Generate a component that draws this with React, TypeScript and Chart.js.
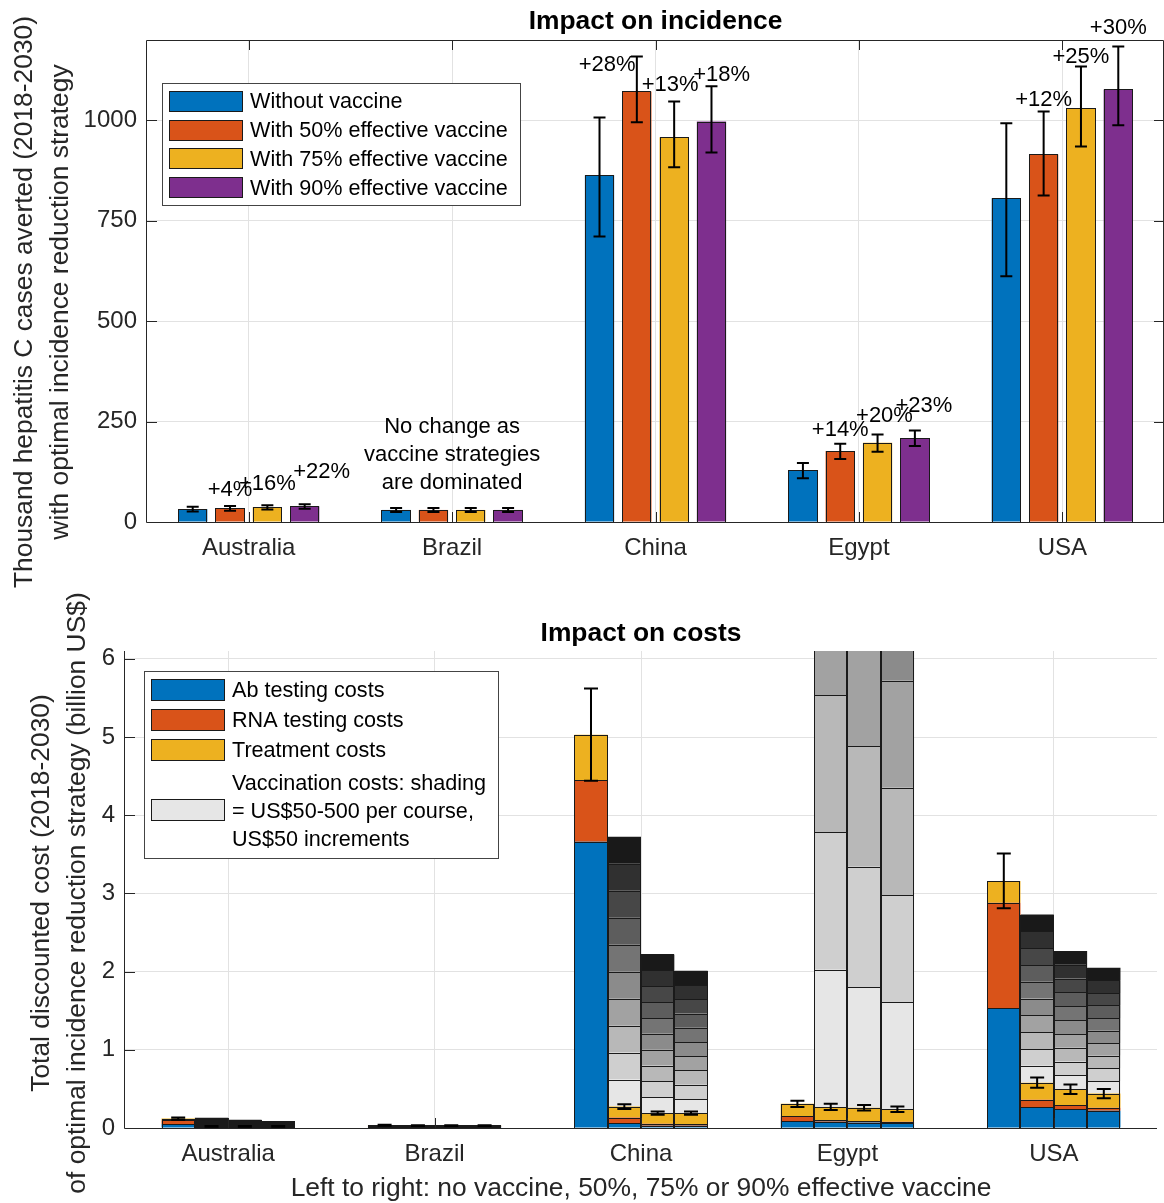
import React, { useEffect, useRef } from 'react';
import { Chart, registerables } from 'chart.js';

Chart.register(...registerables);

// ---------------- DATA ----------------
const countries = ['Australia', 'Brazil', 'China', 'Egypt', 'USA'];
const strategyLabels = [
  'Without vaccine',
  'With 50% effective vaccine',
  'With 75% effective vaccine',
  'With 90% effective vaccine',
];

// Top panel: thousand HCV cases averted (2018-2030)
const avertedNoVaccine = [32, 30, 863, 129, 806];
const avertedVaccine50 = [34, 30, 1072, 177, 915];
const avertedVaccine75 = [37, 30, 958, 197, 1030];
const avertedVaccine90 = [39, 30, 997, 208, 1077];

const avertedLowNoVaccine = [26, 25, 711, 109, 612];
const avertedHighNoVaccine = [38, 35, 1007, 147, 993];
const avertedLow50 = [28, 25, 995, 157, 813];
const avertedHigh50 = [40, 35, 1159, 195, 1022];
const avertedLow75 = [31, 25, 883, 175, 935];
const avertedHigh75 = [42, 35, 1047, 218, 1134];
const avertedLow90 = [33, 25, 920, 189, 988];
const avertedHigh90 = [44, 35, 1085, 228, 1184];

// Percentage-increase annotations (text, anchor value, anchor offset in category units)
const pctText50 = ['+4%', '', '+28%', '+14%', '+12%'];
const pctText75 = ['+16%', '', '+13%', '+20%', '+25%'];
const pctText90 = ['+22%', '', '+18%', '+23%', '+30%'];
const pctAnchorY50 = [80, 0, 1137, 229, 1052];
const pctAnchorY75 = [95, 0, 1087, 264, 1157];
const pctAnchorY90 = [124, 0, 1114, 289, 1231];
const pctAnchorDx50 = [0, 0, -0.146, 0, 0];
const pctAnchorDx75 = [0, 0, -0.02, 0.034, 0];
const pctAnchorDx90 = [0.083, 0, 0.05, 0.044, 0];

const brazilNote = ['No change as', 'vaccine strategies', 'are dominated'];
const brazilNoteCountry = 1;
const brazilNoteY = 167;

const topYTicks = [0, 250, 500, 750, 1000];
const topYMax = 1200;

// Bottom panel: total discounted cost (billion US$)
const abCostNoVaccine = [0.05, 0.015, 3.66, 0.09, 1.53];
const rnaCostNoVaccine = [0.05, 0.01, 0.79, 0.06, 1.35];
const treatCostNoVaccine = [0.02, 0.01, 0.58, 0.16, 0.28];
const costErrNoVaccine = [0.015, 0.005, 0.59, 0.04, 0.35];

const abCost50 = [0.01, 0.015, 0.064, 0.08, 0.27];
const rnaCost50 = [0.005, 0.008, 0.07, 0.02, 0.09];
const treatCost50 = [0.005, 0.007, 0.14, 0.17, 0.22];
const vaccStepCost50 = [0.011, 0.0005, 0.345, 1.755, 0.215];
const costErr50 = [0.005, 0.004, 0.03, 0.04, 0.065];

const abCost75 = [0.01, 0.015, 0.03, 0.07, 0.24];
const rnaCost75 = [0.005, 0.008, 0.025, 0.015, 0.055];
const treatCost75 = [0.005, 0.007, 0.135, 0.175, 0.2];
const vaccStepCost75 = [0.0085, 0.0005, 0.203, 1.54, 0.177];
const costErr75 = [0.005, 0.004, 0.02, 0.035, 0.06];

const abCost90 = [0.01, 0.015, 0.03, 0.065, 0.22];
const rnaCost90 = [0.005, 0.008, 0.02, 0.015, 0.04];
const treatCost90 = [0.005, 0.007, 0.14, 0.16, 0.18];
const vaccStepCost90 = [0.007, 0.0005, 0.182, 1.37, 0.161];
const costErr90 = [0.005, 0.004, 0.02, 0.035, 0.06];

// vaccine price steps: US$50 ... US$500 per course
const vaccPriceSteps = [50, 100, 150, 200, 250, 300, 350, 400, 450, 500];

const costLegendLabels = ['Ab testing costs', 'RNA testing costs', 'Treatment costs'];
const vaccLegendLines = ['Vaccination costs: shading', '= US$50-500 per course,', 'US$50 increments'];

const bottomYTicks = [0, 1, 2, 3, 4, 5, 6];
const bottomYMax = 6.1;

// ---------------- STYLE ----------------
const FONT = '"Liberation Sans", Arial, Helvetica, sans-serif';
const AXIS = '#262626';
const GRID = '#e2e2e2';
const EDGE = '#1a1a1a';
const COLORS = ['#0072BD', '#D95319', '#EDB120', '#7E2F8E'];
const GREYS = vaccPriceSteps.map((_, i) => {
  const v = Math.round(255 * (0.9 - (0.8 * i) / (vaccPriceSteps.length - 1)));
  return `rgb(${v},${v},${v})`;
});

const W = 1164;
const H = 1203;

function drawErrorBar(ctx: CanvasRenderingContext2D, x: number, y1: number, y2: number, cap: number) {
  ctx.beginPath();
  ctx.moveTo(x, y1);
  ctx.lineTo(x, y2);
  ctx.moveTo(x - cap, y1);
  ctx.lineTo(x + cap, y1);
  ctx.moveTo(x - cap, y2);
  ctx.lineTo(x + cap, y2);
  ctx.stroke();
}

function drawVerticalText(ctx: CanvasRenderingContext2D, text: string, x: number, y: number) {
  ctx.save();
  ctx.translate(x, y);
  ctx.rotate(-Math.PI / 2);
  ctx.textAlign = 'center';
  ctx.textBaseline = 'middle';
  ctx.fillText(text, 0, 0);
  ctx.restore();
}

function drawSwatch(ctx: CanvasRenderingContext2D, x: number, y: number, w: number, h: number, color: string) {
  ctx.fillStyle = color;
  ctx.fillRect(x, y, w, h);
  ctx.strokeStyle = EDGE;
  ctx.lineWidth = 1;
  ctx.strokeRect(x + 0.5, y + 0.5, w - 1, h - 1);
}

// MATLAB-like bar edges: a crisp 1px line on every bar boundary
function drawBarEdges(chart: any) {
  const ctx: CanvasRenderingContext2D = chart.ctx;
  const { left, right, top, bottom } = chart.chartArea;
  ctx.save();
  ctx.beginPath();
  ctx.rect(left, top, right - left, bottom - top + 1);
  ctx.clip();
  ctx.strokeStyle = EDGE;
  ctx.lineWidth = 1;
  chart.data.datasets.forEach((_: any, di: number) => {
    const meta = chart.getDatasetMeta(di);
    meta.data.forEach((bar: any) => {
      const p = bar.getProps(['x', 'y', 'base', 'width'], true);
      const x0 = Math.round(p.x - p.width / 2) + 0.5;
      const x1 = Math.round(p.x + p.width / 2) - 0.5;
      const y0 = Math.round(Math.min(p.y, p.base)) + 0.5;
      const y1 = Math.round(Math.max(p.y, p.base)) + 0.5;
      ctx.strokeRect(x0, y0, x1 - x0, y1 - y0);
    });
  });
  ctx.restore();
}

// ---------------- TOP CHART ----------------
function makeTopChart(canvas: HTMLCanvasElement) {
  const values = [avertedNoVaccine, avertedVaccine50, avertedVaccine75, avertedVaccine90];
  const lows = [avertedLowNoVaccine, avertedLow50, avertedLow75, avertedLow90];
  const highs = [avertedHighNoVaccine, avertedHigh50, avertedHigh75, avertedHigh90];
  const pctTexts = [null, pctText50, pctText75, pctText90];
  const pctYs = [null, pctAnchorY50, pctAnchorY75, pctAnchorY90];
  const pctDxs = [null, pctAnchorDx50, pctAnchorDx75, pctAnchorDx90];

  const decor = {
    id: 'topDecor',
    afterDatasetsDraw(chart: any) {
      const ctx: CanvasRenderingContext2D = chart.ctx;
      const { left, right, top, bottom } = chart.chartArea;
      const yS = chart.scales.y;
      const xS = chart.scales.x;
      const catW = (right - left) / countries.length;

      drawBarEdges(chart);

      // error bars
      ctx.save();
      ctx.strokeStyle = '#000';
      ctx.lineWidth = 2;
      values.forEach((_, di) => {
        const meta = chart.getDatasetMeta(di);
        meta.data.forEach((bar: any, j: number) => {
          drawErrorBar(ctx, bar.x, yS.getPixelForValue(lows[di][j]), yS.getPixelForValue(highs[di][j]), 6);
        });
      });
      ctx.restore();

      // axes box + inward ticks
      ctx.save();
      ctx.strokeStyle = AXIS;
      ctx.lineWidth = 1;
      ctx.beginPath();
      ctx.rect(left - 0.5, top + 0.5, right - left, bottom - top);
      ctx.stroke();
      ctx.beginPath();
      topYTicks.forEach((v) => {
        const y = Math.round(yS.getPixelForValue(v)) + 0.5;
        ctx.moveTo(left, y);
        ctx.lineTo(left + 10, y);
        ctx.moveTo(right, y);
        ctx.lineTo(right - 10, y);
      });
      countries.forEach((_, i) => {
        const x = Math.round(xS.getPixelForValue(i)) + 0.5;
        ctx.moveTo(x, bottom);
        ctx.lineTo(x, bottom - 10);
        ctx.moveTo(x, top);
        ctx.lineTo(x, top + 10);
      });
      ctx.stroke();
      ctx.restore();

      // percentage annotations
      ctx.save();
      ctx.fillStyle = '#000';
      ctx.font = `22px ${FONT}`;
      ctx.textAlign = 'center';
      ctx.textBaseline = 'middle';
      for (let di = 1; di < 4; di++) {
        const meta = chart.getDatasetMeta(di);
        meta.data.forEach((bar: any, j: number) => {
          const t = (pctTexts[di] as string[])[j];
          if (!t) return;
          const x = bar.x + (pctDxs[di] as number[])[j] * catW;
          const y = yS.getPixelForValue((pctYs[di] as number[])[j]);
          ctx.fillText(t, x, y);
        });
      }
      // Brazil note
      const nx = xS.getPixelForValue(brazilNoteCountry);
      const ny = yS.getPixelForValue(brazilNoteY);
      brazilNote.forEach((line, k) => {
        ctx.fillText(line, nx, ny + (k - 1) * 28);
      });
      ctx.restore();

      // title
      ctx.save();
      ctx.fillStyle = '#000';
      ctx.font = `bold 26.4px ${FONT}`;
      ctx.textAlign = 'center';
      ctx.textBaseline = 'middle';
      ctx.fillText('Impact on incidence', (left + right) / 2, 22);
      ctx.restore();

      // y-axis label
      ctx.save();
      ctx.fillStyle = AXIS;
      ctx.font = `26.4px ${FONT}`;
      drawVerticalText(ctx, 'Thousand hepatitis C cases averted (2018-2030)', 25, 302);
      drawVerticalText(ctx, 'with optimal incidence reduction strategy', 61, 302);
      ctx.restore();

      // legend
      ctx.save();
      const lx = 162, ly = 83, lw = 358, lh = 122;
      ctx.fillStyle = '#fff';
      ctx.fillRect(lx, ly, lw, lh);
      ctx.strokeStyle = '#444';
      ctx.lineWidth = 1;
      ctx.strokeRect(lx + 0.5, ly + 0.5, lw, lh);
      ctx.font = `21.6px ${FONT}`;
      ctx.textBaseline = 'middle';
      ctx.textAlign = 'left';
      strategyLabels.forEach((lab, i) => {
        const cy = 101.5 + i * 28.7;
        drawSwatch(ctx, 169, Math.round(cy - 10.5), 74, 21, COLORS[i]);
        ctx.fillStyle = '#000';
        ctx.fillText(lab, 250, cy + 1);
      });
      ctx.restore();
    },
  };

  return new Chart(canvas, {
    type: 'bar',
    data: {
      labels: countries,
      datasets: values.map((v, i) => ({
        label: strategyLabels[i],
        data: v,
        backgroundColor: COLORS[i],
        borderWidth: 0,
        categoryPercentage: 0.734,
        barPercentage: 0.785,
      })),
    },
    options: {
      responsive: false,
      animation: false,
      events: [],
      layout: { padding: { left: 0, top: 40, right: 0, bottom: H - 522 - 60 } },
      plugins: {
        legend: { display: false },
        title: { display: false },
        tooltip: { enabled: false },
      },
      scales: {
        x: {
          grid: { offset: false, color: GRID, drawTicks: false },
          border: { display: false },
          ticks: { font: { family: FONT, size: 24 }, color: AXIS, padding: 12, maxRotation: 0 },
          afterFit: (s: any) => {
            s.height = 60;
          },
        },
        y: {
          min: 0,
          max: topYMax,
          afterBuildTicks: (s: any) => {
            s.ticks = topYTicks.map((v) => ({ value: v }));
          },
          grid: { color: GRID, drawTicks: false },
          border: { display: false },
          ticks: {
            font: { family: FONT, size: 24 },
            color: AXIS,
            padding: 10,
            callback: (v: any) => String(v),
          },
          afterFit: (s: any) => {
            s.width = 147;
          },
        },
      },
    },
    plugins: [decor],
  } as any);
}

// ---------------- BOTTOM CHART ----------------
function makeBottomChart(canvas: HTMLCanvasElement) {
  const stacks = [
    { key: 'none', ab: abCostNoVaccine, rna: rnaCostNoVaccine, treat: treatCostNoVaccine, vacc: null as number[] | null, err: costErrNoVaccine },
    { key: 'v50', ab: abCost50, rna: rnaCost50, treat: treatCost50, vacc: vaccStepCost50, err: costErr50 },
    { key: 'v75', ab: abCost75, rna: rnaCost75, treat: treatCost75, vacc: vaccStepCost75, err: costErr75 },
    { key: 'v90', ab: abCost90, rna: rnaCost90, treat: treatCost90, vacc: vaccStepCost90, err: costErr90 },
  ];

  const datasets: any[] = [];
  const errIndex: { ds: number; err: number[] }[] = [];
  stacks.forEach((s) => {
    const base = {
      stack: s.key,
      borderWidth: 0,
      categoryPercentage: 0.646,
      barPercentage: 1.0,
      clip: 0,
    };
    datasets.push({ ...base, label: costLegendLabels[0], data: s.ab, backgroundColor: COLORS[0] });
    datasets.push({ ...base, label: costLegendLabels[1], data: s.rna, backgroundColor: COLORS[1] });
    datasets.push({ ...base, label: costLegendLabels[2], data: s.treat, backgroundColor: COLORS[2] });
    errIndex.push({ ds: datasets.length - 1, err: s.err });
    if (s.vacc) {
      vaccPriceSteps.forEach((p, k) => {
        datasets.push({
          ...base,
          label: `Vaccination US$${p}`,
          data: s.vacc as number[],
          backgroundColor: GREYS[k],
        });
      });
    }
  });

  const decor = {
    id: 'bottomDecor',
    afterDatasetsDraw(chart: any) {
      const ctx: CanvasRenderingContext2D = chart.ctx;
      const { left, right, top, bottom } = chart.chartArea;
      const yS = chart.scales.y;
      const xS = chart.scales.x;

      drawBarEdges(chart);

      // error bars on testing + treatment cost
      ctx.save();
      ctx.strokeStyle = '#000';
      ctx.lineWidth = 2;
      const zero = yS.getPixelForValue(0);
      errIndex.forEach(({ ds, err }) => {
        const meta = chart.getDatasetMeta(ds);
        meta.data.forEach((bar: any, j: number) => {
          const e = zero - yS.getPixelForValue(err[j]);
          drawErrorBar(ctx, bar.x, bar.y - e, bar.y + e, 7);
        });
      });
      ctx.restore();

      // axes
      ctx.save();
      ctx.strokeStyle = AXIS;
      ctx.lineWidth = 1;
      ctx.beginPath();
      ctx.moveTo(left - 0.5, top);
      ctx.lineTo(left - 0.5, bottom + 0.5);
      ctx.lineTo(right, bottom + 0.5);
      bottomYTicks.forEach((v) => {
        const y = Math.round(yS.getPixelForValue(v)) + 0.5;
        ctx.moveTo(left, y);
        ctx.lineTo(left + 10, y);
      });
      countries.forEach((_, i) => {
        const x = Math.round(xS.getPixelForValue(i)) + 0.5;
        ctx.moveTo(x, bottom);
        ctx.lineTo(x, bottom - 10);
      });
      ctx.stroke();
      ctx.restore();

      // title
      ctx.save();
      ctx.fillStyle = '#000';
      ctx.font = `bold 26.4px ${FONT}`;
      ctx.textAlign = 'center';
      ctx.textBaseline = 'middle';
      ctx.fillText('Impact on costs', (left + right) / 2, 634);
      ctx.restore();

      // axis labels
      ctx.save();
      ctx.fillStyle = AXIS;
      ctx.font = `26.4px ${FONT}`;
      drawVerticalText(ctx, 'Total discounted cost (2018-2030)', 42, 893);
      drawVerticalText(ctx, 'of optimal incidence reduction strategy (billion US$)', 78, 893);
      ctx.textAlign = 'center';
      ctx.textBaseline = 'middle';
      ctx.fillText('Left to right: no vaccine, 50%, 75% or 90% effective vaccine', (left + right) / 2, 1189);
      ctx.restore();

      // legend
      ctx.save();
      const lx = 144, ly = 671, lw = 354, lh = 187;
      ctx.fillStyle = '#fff';
      ctx.fillRect(lx, ly, lw, lh);
      ctx.strokeStyle = '#444';
      ctx.lineWidth = 1;
      ctx.strokeRect(lx + 0.5, ly + 0.5, lw, lh);
      ctx.font = `21.6px ${FONT}`;
      ctx.textBaseline = 'middle';
      ctx.textAlign = 'left';
      costLegendLabels.forEach((lab, i) => {
        const cy = 690 + i * 30;
        drawSwatch(ctx, 151, Math.round(cy - 11), 74, 22, COLORS[i]);
        ctx.fillStyle = '#000';
        ctx.fillText(lab, 232, cy + 1);
      });
      drawSwatch(ctx, 151, 799, 74, 22, GREYS[0]);
      ctx.fillStyle = '#000';
      vaccLegendLines.forEach((line, k) => {
        ctx.fillText(line, 232, 783 + k * 28 + 1);
      });
      ctx.restore();
    },
  };

  return new Chart(canvas, {
    type: 'bar',
    data: { labels: countries, datasets },
    options: {
      responsive: false,
      animation: false,
      events: [],
      layout: { padding: { left: 0, top: 651, right: W - 1157, bottom: H - 1128 - 60 } },
      plugins: {
        legend: { display: false },
        title: { display: false },
        tooltip: { enabled: false },
      },
      scales: {
        x: {
          stacked: true,
          grid: { offset: false, color: GRID, drawTicks: false },
          border: { display: false },
          ticks: { font: { family: FONT, size: 24 }, color: AXIS, padding: 12, maxRotation: 0 },
          afterFit: (s: any) => {
            s.height = 60;
          },
        },
        y: {
          stacked: true,
          min: 0,
          max: bottomYMax,
          afterBuildTicks: (s: any) => {
            s.ticks = bottomYTicks.map((v) => ({ value: v }));
          },
          grid: { color: GRID, drawTicks: false },
          border: { display: false },
          ticks: { font: { family: FONT, size: 24 }, color: AXIS, padding: 10 },
          afterFit: (s: any) => {
            s.width = 125;
          },
        },
      },
    },
    plugins: [decor],
  } as any);
}

export default function App() {
  const topRef = useRef<HTMLCanvasElement | null>(null);
  const bottomRef = useRef<HTMLCanvasElement | null>(null);

  useEffect(() => {
    const top = makeTopChart(topRef.current as HTMLCanvasElement);
    const bottom = makeBottomChart(bottomRef.current as HTMLCanvasElement);
    return () => {
      top.destroy();
      bottom.destroy();
    };
  }, []);

  const canvasStyle: React.CSSProperties = {
    position: 'absolute',
    left: 0,
    top: 0,
    width: W,
    height: H,
  };

  return (
    <div
      style={{
        position: 'fixed',
        left: 0,
        top: 0,
        width: W,
        height: H,
        overflow: 'hidden',
        background: '#fff',
      }}
    >
      <canvas ref={bottomRef} width={W} height={H} style={canvasStyle} />
      <canvas ref={topRef} width={W} height={H} style={canvasStyle} />
    </div>
  );
}
